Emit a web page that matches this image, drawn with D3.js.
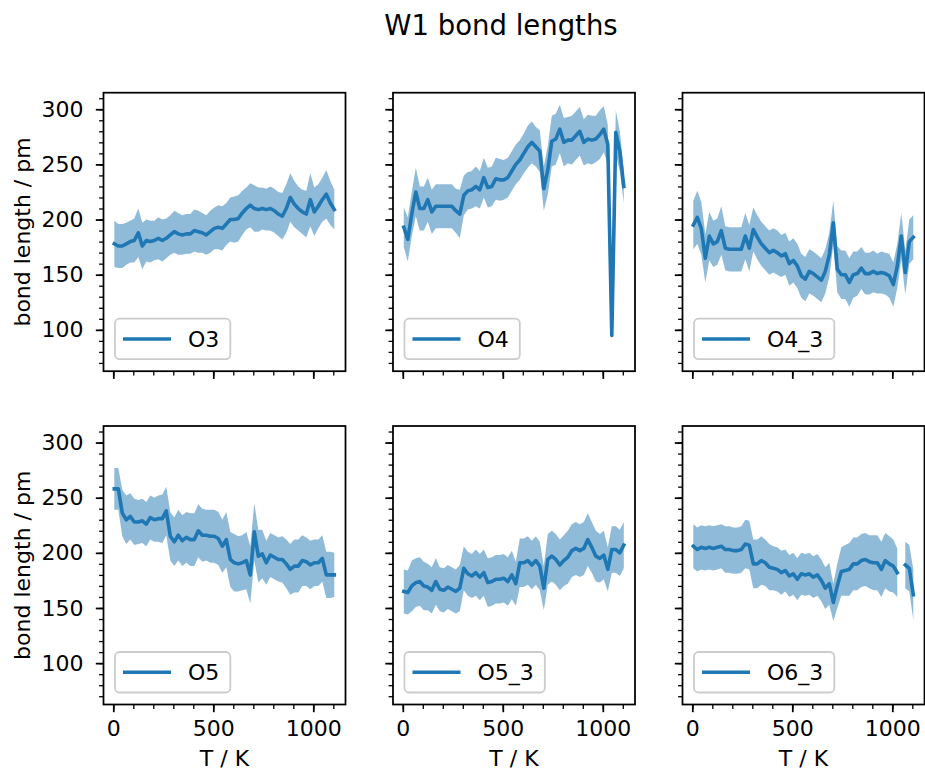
<!DOCTYPE html>
<html>
<head>
<meta charset="utf-8">
<script src="https://cdn.jsdelivr.net/npm/d3@7"></script>
<style>
  body { margin: 0; background: #fff; }
  svg { font-family: "DejaVu Sans", sans-serif; }
</style>
</head>
<body>
<svg id="chart" width="925" height="773"></svg>
<script>
// temperature grid (K)
const T = [5,25,45,65,85,105,125,145,165,185,205,225,245,265,285,305,325,345,365,385,
  405,425,445,465,485,505,525,545,565,585,605,625,645,665,685,705,725,745,765,785,
  805,825,845,865,885,905,925,945,965,985,1005,1025,1045,1065,1085,1105];

// mean bond lengths (pm) and spread for each oxygen
const O3 = [178,176,176,178,180,181,188,176,181,180,181,183,181,183,186,189,187,186,187,187,
  190,189,188,186,189,192,193,192,196,200,200,201,206,210,213,210,209,210,209,210,
  208,205,203,210,220,214,210,207,205,218,207,212,218,223,215,209];
const O3_sd = [21,20,20,19,19,20,22,21,19,19,18,19,19,18,18,19,19,18,18,18,
  19,19,18,18,19,19,20,20,19,20,21,21,20,19,20,21,20,19,19,20,
  20,20,21,22,22,21,20,20,21,24,22,20,20,22,20,18];

const O4 = [193,182,205,225,210,210,218,207,212,212,212,212,212,208,205,222,226,227,230,227,
  238,229,230,237,236,236,238,244,250,254,260,266,270,266,262,228,245,271,273,282,
  270,272,272,276,280,270,273,272,273,277,282,268,95,279,262,230];
const O4_sd = [18,20,20,22,20,20,20,20,20,20,20,20,20,20,22,18,17,17,18,17,
  18,18,18,19,19,18,18,18,18,18,18,19,19,18,19,20,22,23,23,22,
  22,21,22,22,22,21,22,22,21,22,21,18,6,20,18,15];

const O4_3 = [195,202,192,165,185,178,180,190,174,173,173,173,173,185,174,191,184,178,174,170,
  172,170,167,169,160,163,158,149,146,153,151,148,145,153,168,197,155,150,150,143,
  150,151,156,151,151,153,151,152,151,149,141,158,185,152,180,184];
const O4_3_sd = [22,24,24,22,22,21,21,22,20,20,20,20,20,21,21,20,20,20,20,20,
  20,20,19,19,20,20,20,20,20,20,20,20,20,20,20,20,21,22,22,22,
  21,20,19,19,19,19,18,19,19,20,20,20,21,20,20,20];

const O5 = [258,258,236,230,233,228,228,229,226,232,230,231,231,238,215,210,216,211,214,212,
  212,220,216,216,215,215,213,206,212,194,191,190,191,193,180,219,197,199,191,198,
  196,194,194,190,185,188,188,193,192,189,191,191,195,180,180,180];
const O5_sd = [19,19,21,22,21,21,20,20,20,20,20,21,22,22,22,22,23,23,23,24,
  24,24,24,23,24,24,24,24,25,25,26,25,25,26,26,26,24,22,20,20,
  20,20,21,22,23,24,24,23,22,22,21,21,21,21,21,20];

const O5_3 = [165,164,170,173,174,170,169,166,174,167,166,169,167,165,168,186,181,179,182,178,
  182,173,174,176,176,177,174,180,172,191,191,193,189,193,188,168,194,197,194,189,
  193,196,202,204,202,204,212,205,197,195,198,185,203,203,200,207];
const O5_3_sd = [20,20,23,22,22,22,21,21,21,20,20,20,20,20,21,20,20,20,21,21,
  21,22,22,22,22,22,22,22,20,22,22,22,22,22,22,20,23,23,23,23,
  23,24,24,24,24,24,24,23,23,22,22,20,21,21,21,21];

const O6_3 = [206,203,205,204,205,204,205,206,203,203,202,202,203,208,207,190,190,193,191,187,
  186,185,182,184,179,181,176,181,180,181,178,180,175,168,172,155,170,183,184,185,
  190,190,193,194,192,191,191,185,193,190,188,182,null,189,186,162];
const O6_3_sd = [20,20,20,20,20,20,20,20,21,21,21,21,21,22,22,22,22,22,21,21,
  20,20,20,19,19,19,19,19,19,19,19,19,19,19,19,17,20,22,23,24,
  24,24,24,24,24,25,25,25,25,25,24,22,null,21,21,23];

const names = ["O3", "O4", "O4_3", "O5", "O5_3", "O6_3"];
const means = [O3, O4, O4_3, O5, O5_3, O6_3];
const spreads = [O3_sd, O4_sd, O4_3_sd, O5_sd, O5_3_sd, O6_3_sd];

const xTicks = [0, 500, 1000];
const xMinor = [0,100,200,300,400,500,600,700,800,900,1000,1100];
const yTicks = [100, 150, 200, 250, 300];
const yMinor = [70,80,90,100,110,120,130,140,150,160,170,180,190,200,210,220,230,240,250,
  260,270,280,290,300,310];

const color = "#1f77b4";
const fs = 22;

// panel geometry
const W = 242, H = 278.5;
const colX = [103.5, 393, 682.5];
const rowY = [92.7, 426];

const x = d3.scaleLinear().domain([-49, 1161]).range([0, W]);
const y = d3.scaleLinear().domain([62.5, 315]).range([H, 0]);

const svg = d3.select("#chart");

svg.append("text")
  .attr("x", 501).attr("y", 35)
  .attr("text-anchor", "middle")
  .style("font-size", "27.5px")
  .text("W1 bond lengths");

names.forEach((name, k) => {
  const col = k % 3, row = Math.floor(k / 3);
  const g = svg.append("g").attr("transform", `translate(${colX[col]},${rowY[row]})`);

  const pts = T.map((t, i) => ({t: t, m: means[k][i], s: spreads[k][i]}));

  // spread band
  const area = d3.area()
    .defined(d => d.m != null)
    .x(d => x(d.t))
    .y0(d => y(d.m - d.s))
    .y1(d => y(d.m + d.s));
  g.append("path").datum(pts)
    .attr("d", area)
    .attr("fill", color)
    .attr("fill-opacity", 0.5);

  // mean line
  const line = d3.line()
    .defined(d => d.m != null)
    .x(d => x(d.t))
    .y(d => y(d.m));
  g.append("path").datum(pts)
    .attr("d", line)
    .attr("fill", "none")
    .attr("stroke", color)
    .attr("stroke-width", 3.6)
    .attr("stroke-linejoin", "round")
    .attr("stroke-linecap", "square");

  // axes
  const xMin = g.append("g").attr("transform", `translate(0,${H})`)
    .call(d3.axisBottom(x).tickValues(xMinor).tickSize(4.4).tickSizeOuter(0).tickFormat(""));
  const xMaj = g.append("g").attr("transform", `translate(0,${H})`)
    .call(d3.axisBottom(x).tickValues(xTicks).tickSize(7.7).tickPadding(7.7).tickSizeOuter(0)
      .tickFormat(row === 1 ? d3.format("d") : ""));
  const yMin = g.append("g")
    .call(d3.axisLeft(y).tickValues(yMinor).tickSize(4.4).tickSizeOuter(0).tickFormat(""));
  const yMaj = g.append("g")
    .call(d3.axisLeft(y).tickValues(yTicks).tickSize(7.7).tickPadding(12.3).tickSizeOuter(0)
      .tickFormat(col === 0 ? d3.format("d") : ""));

  [xMin, xMaj, yMin, yMaj].forEach(a => {
    a.select(".domain").remove();
    a.selectAll("text").style("font-size", fs + "px").attr("fill", "#000")
      .style("font-family", "DejaVu Sans, sans-serif");
    a.selectAll("line").attr("stroke", "#000");
  });
  xMaj.selectAll("line").attr("stroke-width", 1.76);
  yMaj.selectAll("line").attr("stroke-width", 1.76);
  xMin.selectAll("line").attr("stroke-width", 1.3);
  yMin.selectAll("line").attr("stroke-width", 1.3);

  // frame
  g.append("rect")
    .attr("width", W).attr("height", H)
    .attr("fill", "none")
    .attr("stroke", "#000")
    .attr("stroke-width", 1.76);

  // axis labels
  if (row === 1) {
    g.append("text")
      .attr("x", W / 2).attr("y", 766 - rowY[1])
      .attr("text-anchor", "middle")
      .style("font-size", fs + "px")
      .text("T / K");
  }
  if (col === 0) {
    g.append("text")
      .attr("transform", `translate(${30 - colX[0]},${H / 2}) rotate(-90)`)
      .attr("text-anchor", "middle")
      .style("font-size", fs + "px")
      .text("bond length / pm");
  }

  // legend
  const lh = 40.5;
  const leg = g.append("g").attr("transform", `translate(11.5,${H - 12 - lh})`);
  const box = leg.append("rect")
    .attr("height", lh).attr("rx", 4.5)
    .attr("fill", "#fff").attr("fill-opacity", 0.8)
    .attr("stroke", "#cccccc").attr("stroke-width", 1.8);
  leg.append("line")
    .attr("x1", 8).attr("x2", 56)
    .attr("y1", lh / 2).attr("y2", lh / 2)
    .attr("stroke", color).attr("stroke-width", 3.6);
  const lt = leg.append("text")
    .attr("x", 73).attr("y", lh / 2 + 8)
    .style("font-size", fs + "px")
    .text(name);
  box.attr("width", 73 + lt.node().getComputedTextLength() + 11);
});
</script>
</body>
</html>
